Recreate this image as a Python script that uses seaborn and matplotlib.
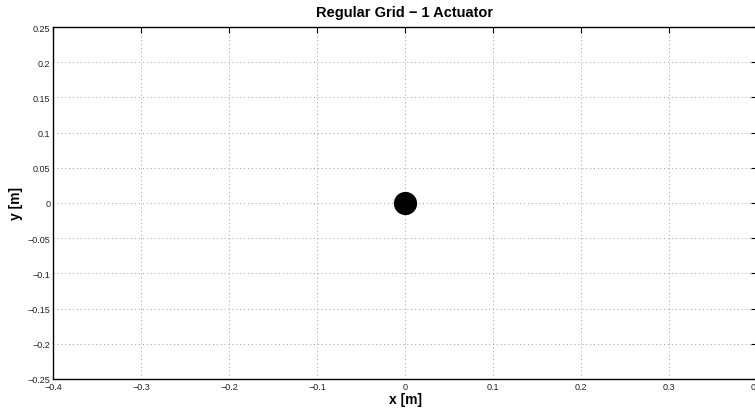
import matplotlib
matplotlib.use("Agg")
import matplotlib.pyplot as plt
import seaborn as sns
import numpy as np
import pandas as pd

# Data
actuator_x = [0.0]
actuator_y = [0.0]
x_ticks = [-0.4, -0.3, -0.2, -0.1, 0, 0.1, 0.2, 0.3, 0.4]
x_tick_labels = ["\u22120.4", "\u22120.3", "\u22120.2", "\u22120.1", "0", "0.1", "0.2", "0.3", "0.4"]
y_ticks = [-0.25, -0.2, -0.15, -0.1, -0.05, 0, 0.05, 0.1, 0.15, 0.2, 0.25]
y_tick_labels = ["\u22120.25", "\u22120.2", "\u22120.15", "\u22120.1", "\u22120.05", "0",
                 "0.05", "0.1", "0.15", "0.2", "0.25"]
title = "Regular Grid \u2212 1 Actuator"

sns.set_style("white")
plt.rcParams['font.family'] = ['Liberation Sans', 'DejaVu Sans']

fig = plt.figure(figsize=(7.55, 4.14), dpi=100)
ax = fig.add_axes([53/755, 34/414, 704/755, 352/414])

df = pd.DataFrame({"x": actuator_x, "y": actuator_y})
sns.scatterplot(data=df, x="x", y="y", ax=ax, s=280, color="black",
                edgecolor="black", linewidth=0, zorder=3, legend=False)

ax.set_xlim(-0.4, 0.4)
ax.set_ylim(-0.25, 0.25)
ax.set_xticks(x_ticks)
ax.set_xticklabels(x_tick_labels, fontsize=6.5)
ax.set_yticks(y_ticks)
ax.set_yticklabels(y_tick_labels, fontsize=6.5)
ax.tick_params(direction="in", length=4, width=0.8, top=True, right=True,
               pad=2, colors="black", labelcolor="#222222")
ax.grid(True, linestyle=(0, (1, 3)), color="#999999", linewidth=0.7)
for sp in ax.spines.values():
    sp.set_visible(True)
    sp.set_color("black")
    sp.set_linewidth(1.0)

ax.set_title(title, fontsize=10.5, fontweight="bold", pad=8, color="black")
ax.set_xlabel("x [m]", fontsize=10, fontweight="bold", labelpad=1, color="black")
ax.set_ylabel("y [m]", fontsize=10, fontweight="bold", labelpad=3, color="black")

fig.savefig("out.png", dpi=100)
